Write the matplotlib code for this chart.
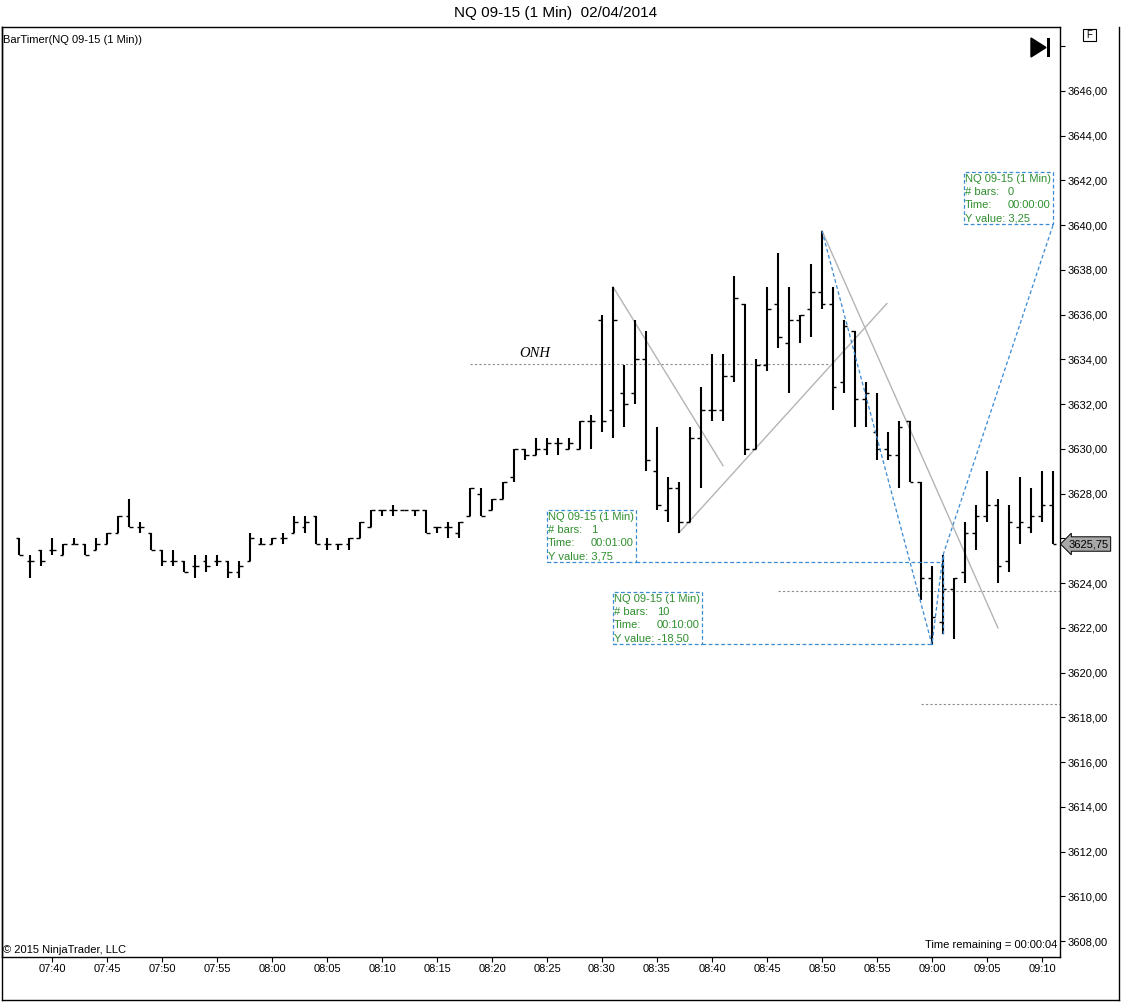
import datetime as dt
import numpy as np
import matplotlib
matplotlib.use("Agg")
import matplotlib.pyplot as plt
from matplotlib.patches import Rectangle, Polygon
from matplotlib.lines import Line2D

plt.rcParams['font.family'] = ['Liberation Sans', 'DejaVu Sans']

# 1 minute bars, NQ 09-15, first bar at 07:37
start_time = "07:37"
opens = [3626.0, 3625.0, 3625.5, 3625.5, 3625.25, 3625.75, 3625.75, 3625.5, 3625.75, 3626.25,
         3627.0, 3626.5, 3626.25, 3625.5, 3625.0, 3625.0, 3624.75, 3625.0, 3625.0, 3625.0,
         3624.5, 3625.0, 3625.75, 3625.75, 3626.0, 3626.25, 3626.5, 3627.0, 3625.75, 3625.75,
         3625.75, 3626.0, 3626.5, 3627.25, 3627.25, 3627.25, 3627.25, 3627.25, 3626.5, 3626.5,
         3626.25, 3627.0, 3628.0, 3627.25, 3627.75, 3628.75, 3630.0, 3629.75, 3630.0, 3630.25,
         3630.0, 3630.0, 3631.25, 3635.75, 3631.75, 3632.5, 3632.5, 3634.0, 3629.0, 3627.25,
         3628.25, 3626.75, 3630.5, 3631.75, 3631.75, 3633.25, 3636.5, 3630.0, 3633.75, 3636.5,
         3634.75, 3635.75, 3636.25, 3637.0, 3636.5, 3633.0, 3635.25, 3632.25, 3630.75, 3630.0,
         3629.75, 3631.25, 3628.5, 3624.25, 3622.25, 3623.75, 3624.5, 3626.25, 3627.0, 3627.5,
         3625.0, 3626.5, 3626.5, 3627.0, 3627.5]
highs = [3626.0, 3625.25, 3625.5, 3626.0, 3625.75, 3626.0, 3625.75, 3626.0, 3626.25, 3627.0,
         3627.75, 3626.75, 3626.25, 3625.5, 3625.5, 3625.0, 3625.25, 3625.25, 3625.25, 3625.0,
         3625.0, 3626.25, 3626.0, 3626.0, 3626.25, 3627.0, 3627.0, 3627.0, 3626.0, 3625.75,
         3626.0, 3626.75, 3627.25, 3627.25, 3627.5, 3627.25, 3627.25, 3627.25, 3626.5, 3626.75,
         3626.75, 3628.25, 3628.25, 3627.75, 3628.5, 3630.0, 3630.0, 3630.5, 3630.5, 3630.5,
         3630.5, 3631.25, 3631.5, 3636.0, 3637.25, 3633.75, 3635.75, 3635.25, 3631.0, 3628.75,
         3628.5, 3631.0, 3632.75, 3634.25, 3634.25, 3637.75, 3636.5, 3634.0, 3637.25, 3638.75,
         3637.25, 3636.0, 3638.25, 3639.75, 3637.25, 3635.75, 3635.25, 3633.0, 3632.5, 3630.75,
         3631.25, 3631.25, 3628.5, 3624.75, 3625.25, 3624.25, 3626.75, 3627.5, 3629.0, 3627.75,
         3627.5, 3628.75, 3628.25, 3629.0, 3629.0]
lows = [3625.25, 3624.25, 3624.75, 3625.25, 3625.25, 3625.75, 3625.25, 3625.5, 3625.75, 3626.25,
        3626.5, 3626.25, 3625.5, 3624.75, 3624.75, 3624.5, 3624.25, 3624.5, 3624.75, 3624.25,
        3624.25, 3625.0, 3625.75, 3625.75, 3625.75, 3626.25, 3626.25, 3625.75, 3625.5, 3625.5,
        3625.5, 3626.0, 3626.5, 3627.0, 3627.0, 3627.25, 3627.0, 3626.25, 3626.25, 3626.0,
        3626.0, 3627.0, 3627.0, 3627.25, 3627.75, 3628.5, 3629.5, 3629.75, 3629.75, 3629.75,
        3630.0, 3630.0, 3630.0, 3630.75, 3630.5, 3631.0, 3632.0, 3629.0, 3627.25, 3626.75,
        3626.25, 3626.75, 3628.25, 3631.25, 3631.25, 3633.0, 3629.75, 3630.0, 3633.5, 3634.5,
        3632.5, 3634.75, 3635.0, 3636.25, 3631.75, 3632.5, 3631.0, 3631.0, 3629.5, 3629.5,
        3628.25, 3628.5, 3623.25, 3621.25, 3621.75, 3621.5, 3624.0, 3625.5, 3626.75, 3624.0,
        3624.5, 3625.75, 3626.25, 3626.75, 3625.75]
closes = [3625.25, 3625.0, 3625.0, 3625.5, 3625.75, 3625.75, 3625.25, 3625.75, 3626.25, 3627.0,
          3626.5, 3626.5, 3625.5, 3625.0, 3625.0, 3624.5, 3624.75, 3624.75, 3625.0, 3624.5,
          3624.75, 3626.0, 3625.75, 3626.0, 3626.0, 3626.75, 3626.75, 3625.75, 3625.75, 3625.75,
          3626.0, 3626.75, 3627.25, 3627.25, 3627.25, 3627.25, 3627.25, 3626.25, 3626.5, 3626.5,
          3626.75, 3628.25, 3627.0, 3627.75, 3628.5, 3630.0, 3629.75, 3630.0, 3630.25, 3630.25,
          3630.25, 3631.25, 3631.25, 3631.25, 3635.75, 3632.0, 3634.0, 3629.5, 3627.5, 3628.25,
          3626.75, 3630.5, 3631.75, 3631.75, 3633.25, 3636.75, 3630.0, 3633.75, 3636.25, 3635.0,
          3635.75, 3636.0, 3637.0, 3636.5, 3632.75, 3635.5, 3632.25, 3632.5, 3630.0, 3629.75,
          3631.0, 3628.5, 3624.25, 3622.5, 3623.75, 3624.25, 3626.25, 3627.0, 3627.5, 3624.75,
          3626.75, 3626.75, 3627.0, 3627.5, 3625.75]
last_price = 3625.75

# drawings on the chart (bar index, price)
onh_level = 3633.8
onh_span = (41.0, 73.7)
trend_lines = [((54, 3637.25), (64, 3629.25)),
               ((60, 3626.25), (78.9, 3636.5)),
               ((73, 3639.75), (89, 3622.0))]
level_lines = [(69, 3623.65), (82, 3618.6)]
ruler_x = [73, 83, 84, 94]
ruler_y = [3639.75, 3621.25, 3625.25, 3640.0]
box_left = [85.9, 48.0, 54.0]
box_top = [3642.38, 3627.27, 3623.6]
box_ext = [None, 84, 83]
ruler_bars = ["0", "1", "10"]
ruler_times = ["00:00:00", "00:01:00", "00:10:00"]
ruler_yvals = ["3,25", "3,75", "-18,50"]

W, H = 1121, 1002
fig = plt.figure(figsize=(W / 100, H / 100), dpi=100)
ax = fig.add_axes([2 / W, 1 - 957 / H, 1058 / W, 930 / H])

def fx(px):
    return px / W

def fy(py):
    return 1 - py / H

x = np.arange(len(opens))
ax.vlines(x, lows, highs, color='black', lw=1.5, zorder=3)
ax.hlines(opens, x - 0.32, x, color='black', lw=1.0, zorder=3)
ax.hlines(closes, x, x + 0.32, color='black', lw=1.0, zorder=3)

# ONH line
ax.plot(onh_span, [onh_level, onh_level], color='#8c8c8c', lw=0.8, ls=(0, (2, 2)))
ax.text(46.9, onh_level + 0.45, "ONH", fontsize=10.5, style='italic',
        family=['Liberation Serif', 'DejaVu Serif'], ha='center', va='center')

for (x0, y0), (x1, y1) in trend_lines:
    ax.plot([x0, x1], [y0, y1], color='#b4b4b4', lw=1.0)

for x0, lvl in level_lines:
    ax.plot([x0, 95], [lvl, lvl], color='#8c8c8c', lw=0.8, ls=(0, (2, 2)))

blue = '#3a8ad4'
green = '#2f8f2f'
ax.plot(ruler_x, ruler_y, color=blue, lw=0.9, ls=(0, (3, 2)), zorder=4)
ax.plot([84, 84], [3621.75, 3625.25], color=blue, lw=0.9, ls=(0, (3, 2)), zorder=4)

box_w = 8.1
box_h = 52 / 22.37
for i in range(3):
    bottom = box_top[i] - box_h
    ax.add_patch(Rectangle((box_left[i], bottom), box_w, box_h,
                           fill=True, fc='white', ec=blue, lw=0.9, ls=(0, (3, 2)), zorder=5))
    if box_ext[i] is not None:
        ax.plot([box_left[i] + box_w, box_ext[i]], [bottom, bottom], color=blue, lw=0.9,
                ls=(0, (3, 2)), zorder=4)
    lines = [("NQ 09-15 (1 Min)", None),
             ("# bars:", ruler_bars[i]),
             ("Time:", ruler_times[i]),
             ("Y value: " + ruler_yvals[i], None)]
    for k, (lab, val) in enumerate(lines):
        dy = -(6.7 + 13.3 * k) * 0.72
        ax.annotate(lab, (box_left[i], box_top[i]), xytext=(1.2 * 0.72, dy),
                    textcoords='offset points', fontsize=8, color=green,
                    ha='left', va='center', zorder=6)
        if val is not None:
            ax.annotate(val, (box_left[i], box_top[i]), xytext=(44 * 0.72, dy),
                        textcoords='offset points', fontsize=8, color=green,
                        ha='left', va='center', zorder=6)

# axes
ax.set_xlim(-1.55, 94.64)
ax.set_ylim(3607.29, 3648.86)
t0 = dt.datetime.strptime(start_time, "%H:%M")
xt = [i for i in x if (t0 + dt.timedelta(minutes=int(i))).minute % 5 == 0]
ax.set_xticks(xt)
ax.set_xticklabels([(t0 + dt.timedelta(minutes=int(i))).strftime("%H:%M") for i in xt])
yt = np.arange(3608, 3649, 2)
ylab = []
for v in yt:
    if v > 3647 or abs(v - last_price) < 0.5:
        ylab.append("")
    else:
        ylab.append(f"{v:.2f}".replace(".", ","))
ax.set_yticks(yt)
ax.set_yticklabels(ylab)
ax.yaxis.tick_right()
ax.tick_params(axis='y', direction='out', length=3.6, width=0.8, labelsize=8, pad=1.5)
ax.tick_params(axis='x', direction='out', length=3.6, width=0.8, labelsize=8, pad=1.5)
for s in ax.spines.values():
    s.set_linewidth(1.0)

# last price marker
ax.annotate(f"{last_price:.2f}".replace(".", ","), (1.0, last_price),
            xycoords=ax.get_yaxis_transform(), xytext=(6, 0), textcoords='offset points',
            fontsize=8, ha='left', va='center', annotation_clip=False, zorder=10,
            bbox=dict(boxstyle='larrow,pad=0.2', fc='#a8a8a8', ec='black', lw=0.7))

# texts
fig.text(fx(556), fy(13), "NQ 09-15 (1 Min)  02/04/2014", ha='center', va='center', fontsize=11)
ax.text(0.001, (957 - 40) / 930, "BarTimer(NQ 09-15 (1 Min))", transform=ax.transAxes,
        fontsize=8, ha='left', va='center')
ax.text(0.001, (957 - 950) / 930, "\u00a9 2015 NinjaTrader, LLC", transform=ax.transAxes,
        fontsize=8, ha='left', va='center')
ax.text(0.997, (957 - 945) / 930, "Time remaining = 00:00:04", transform=ax.transAxes,
        fontsize=8, ha='right', va='center')

# toolbar glyphs
fig.patches.append(Polygon([(fx(1031), fy(38)), (fx(1031), fy(57)), (fx(1046), fy(47.5))],
                           closed=True, fc='black', ec='black', transform=fig.transFigure))
fig.patches.append(Rectangle((fx(1047), fy(57)), 3 / W, 19 / H, fc='black', ec='none',
                             transform=fig.transFigure))
fig.patches.append(Rectangle((fx(1083), fy(41)), 13 / W, 12 / H, fc='white', ec='black',
                             lw=0.8, transform=fig.transFigure))
fig.text(fx(1089.5), fy(35), "F", fontsize=7, ha='center', va='center')

# outer frame
fig.lines.append(Line2D([fx(2), fx(2)], [fy(27), fy(1000)], color='black', lw=1.0,
                        transform=fig.transFigure))
fig.lines.append(Line2D([fx(2), fx(1119)], [fy(1000), fy(1000)], color='black', lw=1.0,
                        transform=fig.transFigure))
fig.lines.append(Line2D([fx(1119), fx(1119)], [fy(27), fy(1000)], color='black', lw=1.0,
                        transform=fig.transFigure))

fig.savefig("out.png", dpi=100)
